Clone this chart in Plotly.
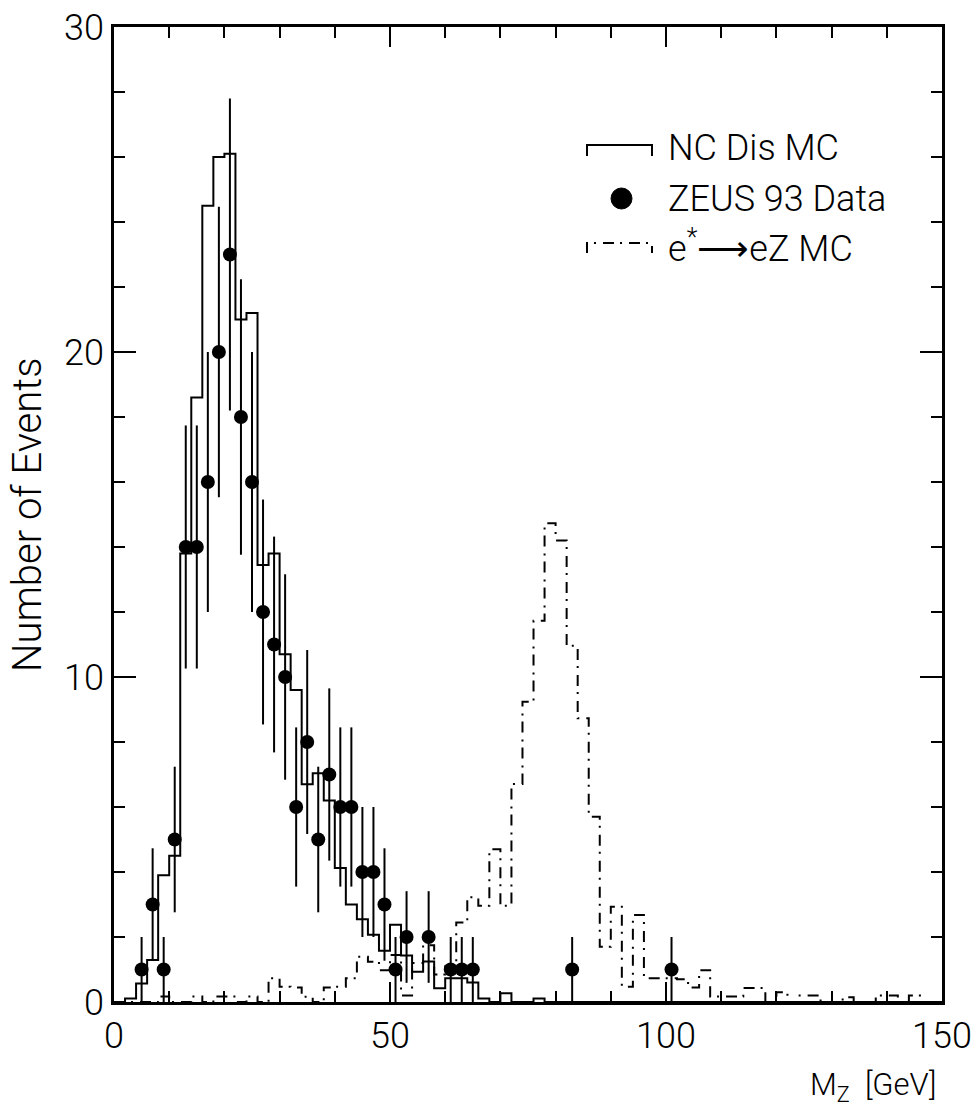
import plotly.graph_objects as go

# ---------------- data ----------------
bin_width = 2
bin_edges_lo = list(range(0, 150, 2))  # 75 bins from 0 to 150

nc_mc = [0.0, 0.11, 0.57, 1.29, 3.9, 4.5, 13.8, 18.6, 24.5, 26.0,
         26.1, 21.0, 21.2, 13.45, 13.8, 10.7, 9.6, 6.7, 7.04, 6.2,
         4.12, 3.0, 2.55, 2.07, 1.58, 2.38, 1.43, 0.93, 1.25, 0.42,
         0.73, 0.73, 0.6, 0.11, 0.0, 0.27, 0.0, 0.0, 0.11, 0.0,
         0.0, 0.0, 0.0, 0.0, 0.0, 0.0, 0.0, 0.0, 0.0, 0.0,
         0.0, 0.0, 0.0, 0.0, 0.0, 0.0, 0.0, 0.0, 0.0, 0.0,
         0.0, 0.0, 0.0, 0.0, 0.0, 0.0, 0.0, 0.0, 0.0, 0.0,
         0.0, 0.0, 0.0, 0.0, 0.0]

estar_mc = [0.0, 0.0, 0.0, 0.0, 0.17, 0.0, 0.0, 0.17, 0.0, 0.17,
            0.17, 0.0, 0.17, 0.0, 0.73, 0.47, 0.45, 0.16, 0.0, 0.45,
            0.47, 0.73, 1.39, 1.24, 0.98, 1.45, 0.2, 1.2, 1.75, 0.85,
            1.1, 2.45, 3.22, 2.96, 4.7, 2.96, 6.71, 9.24, 11.73, 14.73,
            14.2, 10.96, 8.73, 5.7, 1.7, 2.93, 0.47, 2.68, 0.73, 0.73,
            0.73, 0.7, 0.45, 0.98, 0.17, 0.17, 0.17, 0.43, 0.43, 0.0,
            0.3, 0.0, 0.2, 0.2, 0.0, 0.0, 0.15, 0.0, 0.0, 0.2,
            0.2, 0.0, 0.2, 0.0, 0.0]

data_x = [5, 7, 9, 11, 13, 15, 17, 19, 21, 23, 25, 27, 29, 31, 33, 35, 37, 39,
          41, 43, 45, 47, 49, 51, 53, 57, 61, 63, 65, 83, 101]
data_n = [1, 3, 1, 5, 14, 14, 16, 20, 23, 18, 16, 12, 11, 10, 6, 8, 5, 7,
          6, 6, 4, 4, 3, 1, 2, 2, 1, 1, 1, 1, 1]
data_err = [1.0, 1.73, 1.0, 2.24, 3.74, 3.74, 4.0, 4.47, 4.8, 4.24, 4.0, 3.46,
            3.32, 3.16, 2.45, 2.83, 2.24, 2.65, 2.45, 2.45, 2.0, 2.0, 1.73,
            1.0, 1.41, 1.41, 1.0, 1.0, 1.0, 1.0, 1.0]

x_ticks = [0, 50, 100, 150]
y_ticks = [0, 10, 20, 30]

FONT = "Roboto, Liberation Sans, sans-serif"
WEIGHT = 300
DASH = "11px,6px,2px,7px"

def step_xy(vals):
    xs = list(bin_edges_lo) + [bin_edges_lo[-1] + bin_width]
    ys = list(vals) + [vals[-1]]
    return xs, ys

fig = go.Figure()

xs, ys = step_xy(nc_mc)
fig.add_trace(go.Scatter(x=xs, y=ys, mode="lines", line_shape="hv",
                         line=dict(color="black", width=2), showlegend=False))

xs, ys = step_xy(estar_mc)
fig.add_trace(go.Scatter(x=xs, y=ys, mode="lines", line_shape="hv",
                         line=dict(color="black", width=2, dash=DASH),
                         showlegend=False))

fig.add_trace(go.Scatter(x=data_x, y=data_n, mode="markers",
                         marker=dict(color="black", size=14, symbol="circle"),
                         error_y=dict(type="data", array=data_err, visible=True,
                                      color="black", thickness=2, width=0),
                         showlegend=False))

L, R, T, B = 114, 942, 27, 1002
W, H = 977, 1112
PW, PH = R - L, B - T

def px(x):
    return (x - L) / PW

def py(y):
    return (B - y) / PH

def fnt(size):
    return dict(family=FONT, size=size, color="black", weight=WEIGHT)

shapes = []
# legend samples
shapes.append(dict(type="path", xref="paper", yref="paper",
                   path=f"M {px(587)},{py(156)} L {px(587)},{py(145)} L {px(652)},{py(145)} L {px(652)},{py(156)}",
                   line=dict(color="black", width=2)))
shapes.append(dict(type="circle", xref="paper", yref="paper",
                   x0=px(611), x1=px(632), y0=py(188), y1=py(209),
                   fillcolor="black", line=dict(color="black", width=1)))
shapes.append(dict(type="path", xref="paper", yref="paper",
                   path=f"M {px(587)},{py(253)} L {px(587)},{py(243)} L {px(652)},{py(243)} L {px(652)},{py(253)}",
                   line=dict(color="black", width=2, dash=DASH)))

LEG = 36
annotations = [
    dict(text="NC Dis MC", x=px(666), y=py(148), xref="paper", yref="paper",
         xanchor="left", yanchor="middle", showarrow=False, font=fnt(LEG)),
    dict(text="ZEUS 93 Data", x=px(666), y=py(199), xref="paper", yref="paper",
         xanchor="left", yanchor="middle", showarrow=False, font=fnt(LEG)),
    dict(text="e<sup>*</sup>\u27f6eZ MC", x=px(666), y=py(246), xref="paper", yref="paper",
         xanchor="left", yanchor="middle", showarrow=False, font=fnt(LEG)),
    dict(text="M<sub>Z</sub>  [GeV]", x=px(938), y=py(1086), xref="paper", yref="paper",
         xanchor="right", yanchor="middle", showarrow=False, font=fnt(31)),
    dict(text="Number of Events", x=px(27), y=py(515), xref="paper", yref="paper",
         xanchor="center", yanchor="middle", showarrow=False, textangle=-90,
         font=fnt(40)),
]

fig.update_layout(
    width=W, height=H,
    margin=dict(l=L, r=W - R, t=T, b=H - B, pad=0, autoexpand=False),
    paper_bgcolor="white", plot_bgcolor="white",
    shapes=shapes, annotations=annotations,
    font=dict(family=FONT, color="black"),
)

fig.update_xaxes(range=[0, 150], tickvals=x_ticks, ticktext=[str(v) for v in x_ticks],
                 automargin=False,
                 showgrid=False, zeroline=False, showline=True, linecolor="black",
                 linewidth=2.5, mirror="ticks", ticks="inside", ticklen=20,
                 tickwidth=2, tickcolor="black", tickfont=fnt(36),
                 minor=dict(dtick=10, tick0=0, ticks="inside", ticklen=11,
                            tickwidth=2, tickcolor="black", showgrid=False))
fig.update_yaxes(range=[0, 30], tickvals=y_ticks, ticktext=[str(v) for v in y_ticks],
                 automargin=False,
                 showgrid=False, zeroline=False, showline=True, linecolor="black",
                 linewidth=2.5, mirror="ticks", ticks="inside", ticklen=22,
                 tickwidth=2, tickcolor="black", tickfont=fnt(36),
                 minor=dict(dtick=2, tick0=0, ticks="inside", ticklen=11,
                            tickwidth=2, tickcolor="black", showgrid=False))

fig.write_html("out.html")
